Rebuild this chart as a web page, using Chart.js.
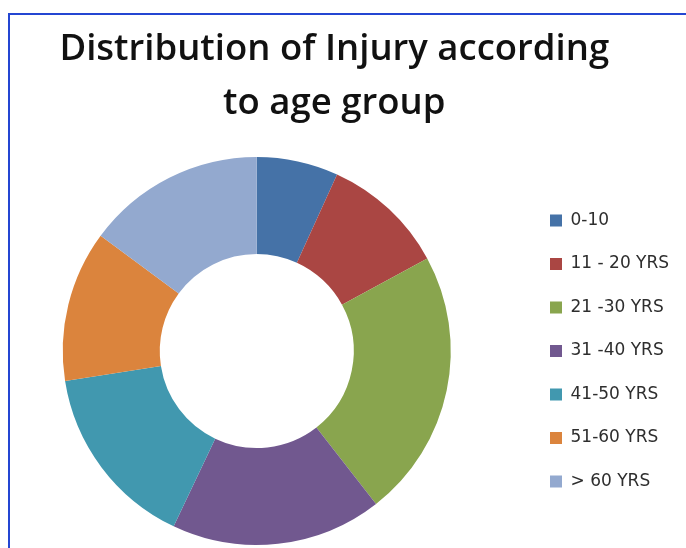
<!DOCTYPE html>
<html>
<head>
<meta charset="utf-8">
<script src="https://cdn.jsdelivr.net/npm/chart.js@4.4.0/dist/chart.umd.min.js"></script>
<style>
  html, body { margin: 0; padding: 0; background: #fff; }
  #wrap { position: relative; width: 686px; height: 548px; overflow: hidden; }
  #frame {
    position: absolute; left: 8px; top: 13px; right: 0; bottom: 0;
    border-top: 2px solid #2446d2; border-left: 2px solid #2446d2;
    pointer-events: none;
  }
  /* canvas nudged left so the ring sits where the original one does */
  canvas { position: absolute; left: -10px; top: 0; }
</style>
</head>
<body>
<div id="wrap">
  <canvas id="chart" width="696" height="548"></canvas>
  <div id="frame"></div>
</div>
<script>
// age groups and their share of injuries (%)
const ageGroups = ['0-10', '11 - 20 YRS', '21 -30 YRS', '31 -40 YRS', '41-50 YRS', '51-60 YRS', '> 60 YRS'];
const injuryShare = [6.8, 10.3, 22.4, 17.6, 15.5, 12.6, 14.9];
const sliceColors = ['#4572A7', '#AA4643', '#89A54E', '#71588F', '#4198AF', '#DB843D', '#93A9CF'];

const ctx = document.getElementById('chart');

new Chart(ctx, {
  type: 'doughnut',
  data: {
    labels: ageGroups,
    datasets: [{
      data: injuryShare,
      backgroundColor: sliceColors,
      borderWidth: 0,
      hoverOffset: 0
    }]
  },
  options: {
    responsive: false,
    animation: false,
    cutout: '50%',
    layout: {
      padding: { top: 0, bottom: 3, left: 0, right: 7.5 }
    },
    plugins: {
      tooltip: { enabled: false },
      title: {
        display: true,
        text: ['Distribution of Injury according', 'to age group'],
        color: '#111',
        font: { family: 'Open Sans', size: 36.5, weight: '600', lineHeight: '54px' },
        padding: { top: 23, bottom: 26 }
      },
      legend: {
        position: 'right',
        fullSize: false,
        maxWidth: 155,
        labels: {
          boxWidth: 12,
          boxHeight: 12,
          padding: 26.5,
          color: '#2e2e2e',
          font: { family: 'DejaVu Sans', size: 17, lineHeight: 1 }
        }
      }
    }
  }
});
</script>
</body>
</html>
